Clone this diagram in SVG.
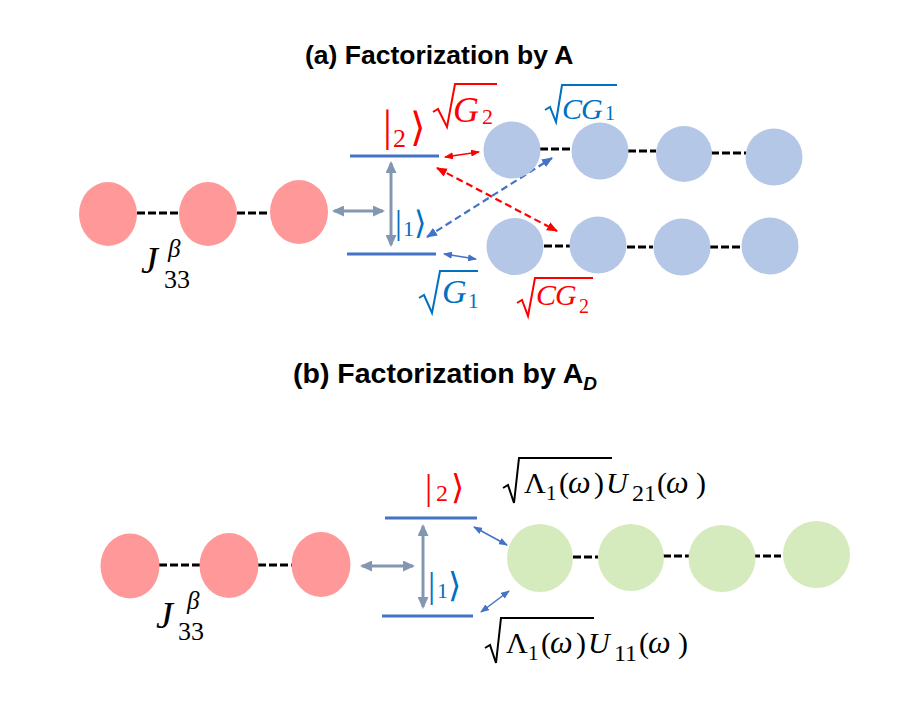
<svg xmlns="http://www.w3.org/2000/svg" width="921" height="720" viewBox="0 0 921 720">
<style>
.title{font-family:"Liberation Sans",Arial,sans-serif;font-weight:bold;fill:#000}
.m{font-family:"Liberation Serif","Times New Roman",serif}
.it{font-style:italic}
.red{fill:#FF0000}
.blue{fill:#0070C0}
.blk{fill:#000}
.br{font-family:"DejaVu Sans",sans-serif}
.pink{fill:#FF9999}
.lb{fill:#B4C7E7}
.gr{fill:#D5EBBD}
.dash{stroke:#000;stroke-width:3;stroke-dasharray:8 3;fill:none}
.lvl{stroke:#4472C4;stroke-width:3;fill:none}
.garr{stroke:#8497B0;stroke-width:3;fill:none;marker-start:url(#mg);marker-end:url(#mg)}
.rarr{stroke:#FF0000;stroke-width:1.5;fill:none;marker-start:url(#mr);marker-end:url(#mr)}
.barr{stroke:#4472C4;stroke-width:1.5;fill:none;marker-start:url(#mb);marker-end:url(#mb)}
.rdash{stroke:#FF0000;stroke-width:2.2;stroke-dasharray:7 4;fill:none;marker-start:url(#mrd);marker-end:url(#mrd)}
.bdash{stroke:#4472C4;stroke-width:2.2;stroke-dasharray:7 4;fill:none;marker-start:url(#mbd);marker-end:url(#mbd)}
.rad{fill:none;stroke-width:2;stroke-linejoin:miter}
</style>
<defs>
<marker id="mg" markerUnits="userSpaceOnUse" markerWidth="12" markerHeight="11" refX="10" refY="5.5" orient="auto-start-reverse"><path d="M0,0 L12,5.5 L0,11 z" fill="#8497B0"/></marker>
<marker id="mr" markerUnits="userSpaceOnUse" markerWidth="9" markerHeight="7" refX="8" refY="3.5" orient="auto-start-reverse"><path d="M0,0 L9,3.5 L0,7 z" fill="#FF0000"/></marker>
<marker id="mb" markerUnits="userSpaceOnUse" markerWidth="9" markerHeight="7" refX="8" refY="3.5" orient="auto-start-reverse"><path d="M0,0 L9,3.5 L0,7 z" fill="#4472C4"/></marker>
<marker id="mrd" markerUnits="userSpaceOnUse" markerWidth="11" markerHeight="9" refX="10" refY="4.5" orient="auto-start-reverse"><path d="M0,0 L11,4.5 L0,9 z" fill="#FF0000"/></marker>
<marker id="mbd" markerUnits="userSpaceOnUse" markerWidth="11" markerHeight="9" refX="10" refY="4.5" orient="auto-start-reverse"><path d="M0,0 L11,4.5 L0,9 z" fill="#4472C4"/></marker>
</defs>
<rect width="921" height="720" fill="#fff"/>

<text class="title" x="305" y="64" font-size="26.5">(a) Factorization by A</text>
<text class="title" x="293" y="383" font-size="28.5">(b) Factorization by A<tspan font-size="19" font-style="italic" dy="7">D</tspan></text>

<g id="connectors">
  <line class="dash" x1="137" y1="213" x2="179" y2="213"/>
  <line class="dash" x1="237" y1="213" x2="270" y2="213"/>
  <line class="dash" x1="540" y1="149" x2="571" y2="149"/>
  <line class="dash" x1="628" y1="151" x2="656" y2="151"/>
  <line class="dash" x1="711" y1="153" x2="746" y2="153"/>
  <line class="dash" x1="544" y1="246" x2="570" y2="246"/>
  <line class="dash" x1="627" y1="247" x2="653" y2="247"/>
  <line class="dash" x1="710" y1="247" x2="741" y2="247"/>
  <line class="garr" x1="334" y1="211" x2="383" y2="211"/>
  <line class="garr" x1="391" y1="163" x2="391" y2="245"/>
  <line class="rarr" x1="445" y1="157" x2="479" y2="152"/>
  <line class="barr" x1="444" y1="254" x2="476" y2="259"/>
  <line class="rdash" x1="437" y1="168" x2="557" y2="231"/>
  <line class="bdash" x1="427" y1="237" x2="552" y2="158"/>
  <line class="dash" x1="159" y1="565" x2="200" y2="565"/>
  <line class="dash" x1="258" y1="565" x2="292" y2="565"/>
  <line class="dash" x1="573" y1="557" x2="598" y2="557"/>
  <line class="dash" x1="663" y1="556" x2="690" y2="556"/>
  <line class="dash" x1="752" y1="556" x2="781" y2="556"/>
  <line class="garr" x1="362" y1="566" x2="413" y2="566"/>
  <line class="garr" x1="423" y1="526" x2="423" y2="607"/>
  <line class="barr" x1="474" y1="527" x2="507" y2="545"/>
  <line class="barr" x1="481" y1="612" x2="509" y2="591"/>
</g>

<g id="a-r1"><ellipse class="pink" cx="108" cy="214" rx="29" ry="32"/></g>
<g id="a-r2"><ellipse class="pink" cx="208" cy="214" rx="29" ry="32"/></g>
<g id="a-r3"><ellipse class="pink" cx="299" cy="212" rx="29" ry="32"/></g>
<g id="a-levels">
  <line class="lvl" x1="350" y1="156" x2="439" y2="156"/>
  <line class="lvl" x1="347" y1="254" x2="436" y2="254"/>
</g>
<g id="a-t1"><circle class="lb" cx="512" cy="150" r="28.5"/></g>
<g id="a-t2"><circle class="lb" cx="600" cy="151" r="28.5"/></g>
<g id="a-t3"><circle class="lb" cx="684" cy="154" r="28"/></g>
<g id="a-t4"><circle class="lb" cx="774" cy="157" r="28.5"/></g>
<g id="a-b1"><circle class="lb" cx="515" cy="246.5" r="28.5"/></g>
<g id="a-b2"><circle class="lb" cx="598" cy="245" r="28.5"/></g>
<g id="a-b3"><circle class="lb" cx="682" cy="247" r="28.5"/></g>
<g id="a-b4"><circle class="lb" cx="770" cy="246" r="28.5"/></g>

<g id="a-J">
  <text class="m it blk" x="141" y="273" font-size="38">J</text>
  <text class="m it blk" x="168" y="257" font-size="25">β</text>
  <text class="m blk" x="164" y="288" font-size="26">33</text>
</g>
<g id="a-ket2">
  <text class="m red" x="383" y="141" font-size="44">|</text>
  <text class="m red" x="393" y="147" font-size="26">2</text>
  <text class="br red" x="410" y="141" font-size="40">⟩</text>
</g>
<g id="a-ket1">
  <text class="m blue" x="395" y="234" font-size="34">|</text>
  <text class="m blue" x="403" y="236" font-size="22">1</text>
  <text class="br blue" x="414" y="234" font-size="32">⟩</text>
</g>
<g id="a-G2">
  <polyline class="rad" stroke="#FF0000" points="433,112 438,109 447,127 455,84 497,84"/>
  <text class="m it red" x="453" y="122" font-size="36">G</text>
  <text class="m red" x="482" y="124" font-size="22">2</text>
</g>
<g id="a-CG1">
  <polyline class="rad" stroke="#0070C0" points="545,110 550,107 556,122 562,85 617,85"/>
  <text class="m it blue" x="562" y="119" font-size="30">C</text>
  <text class="m it blue" x="581" y="119" font-size="30">G</text>
  <text class="m blue" x="605" y="120" font-size="20">1</text>
</g>
<g id="a-G1">
  <polyline class="rad" stroke="#0070C0" points="419,298 424,295 432,313 440,271 478,271"/>
  <text class="m it blue" x="442" y="303" font-size="34">G</text>
  <text class="m blue" x="468" y="308" font-size="21">1</text>
</g>
<g id="a-CG2">
  <polyline class="rad" stroke="#FF0000" points="517,303 522,300 528,316 535,278 593,278"/>
  <text class="m it red" x="536" y="305" font-size="30">C</text>
  <text class="m it red" x="555" y="305" font-size="30">G</text>
  <text class="m red" x="579" y="313" font-size="20">2</text>
</g>

<g id="b-r1"><ellipse class="pink" cx="130" cy="566" rx="29.5" ry="32.5"/></g>
<g id="b-r2"><ellipse class="pink" cx="229" cy="565.5" rx="29.5" ry="32.5"/></g>
<g id="b-r3"><ellipse class="pink" cx="321" cy="564.5" rx="29.5" ry="32.5"/></g>
<g id="b-levels">
  <line class="lvl" x1="385" y1="518" x2="477" y2="518"/>
  <line class="lvl" x1="382" y1="616" x2="473" y2="616"/>
</g>
<g id="b-g1"><ellipse class="gr" cx="540" cy="558" rx="33" ry="34"/></g>
<g id="b-g2"><ellipse class="gr" cx="631" cy="557.5" rx="33" ry="33.5"/></g>
<g id="b-g3"><circle class="gr" cx="722" cy="558.5" r="33.5"/></g>
<g id="b-g4"><circle class="gr" cx="816.5" cy="554.5" r="33.5"/></g>

<g id="b-J">
  <text class="m it blk" x="156" y="628" font-size="38">J</text>
  <text class="m it blk" x="187" y="609" font-size="25">β</text>
  <text class="m blk" x="178" y="640" font-size="26">33</text>
</g>
<g id="b-ket2">
  <text class="m red" x="425" y="499" font-size="36">|</text>
  <text class="m red" x="436" y="501" font-size="24">2</text>
  <text class="br red" x="451" y="499" font-size="34">⟩</text>
</g>
<g id="b-ket1">
  <text class="m blue" x="428" y="597" font-size="36">|</text>
  <text class="m blue" x="437" y="598" font-size="22">1</text>
  <text class="br blue" x="448" y="597" font-size="34">⟩</text>
</g>
<g id="b-top">
  <polyline class="rad" stroke="#000" points="503,488 508,485 514,503 519,458 612,458"/>
  <text class="m blk" y="493" font-size="30"><tspan x="524">Λ</tspan><tspan x="546" y="500" font-size="21">1</tspan><tspan x="559" y="493">(</tspan><tspan x="568" class="it" font-size="32">ω</tspan><tspan x="594">)</tspan><tspan x="606" class="it">U</tspan><tspan x="632" y="501" font-size="24">21</tspan><tspan x="657" y="493">(</tspan><tspan x="666" class="it" font-size="32">ω</tspan><tspan x="696">)</tspan></text>
</g>
<g id="b-bot">
  <polyline class="rad" stroke="#000" points="485,648 490,645 496,663 501,618 594,618"/>
  <text class="m blk" y="653" font-size="30"><tspan x="506">Λ</tspan><tspan x="528" y="660" font-size="21">1</tspan><tspan x="541" y="653">(</tspan><tspan x="550" class="it" font-size="32">ω</tspan><tspan x="576">)</tspan><tspan x="588" class="it">U</tspan><tspan x="614" y="661" font-size="24">11</tspan><tspan x="639" y="653">(</tspan><tspan x="648" class="it" font-size="32">ω</tspan><tspan x="678">)</tspan></text>
</g>
</svg>
